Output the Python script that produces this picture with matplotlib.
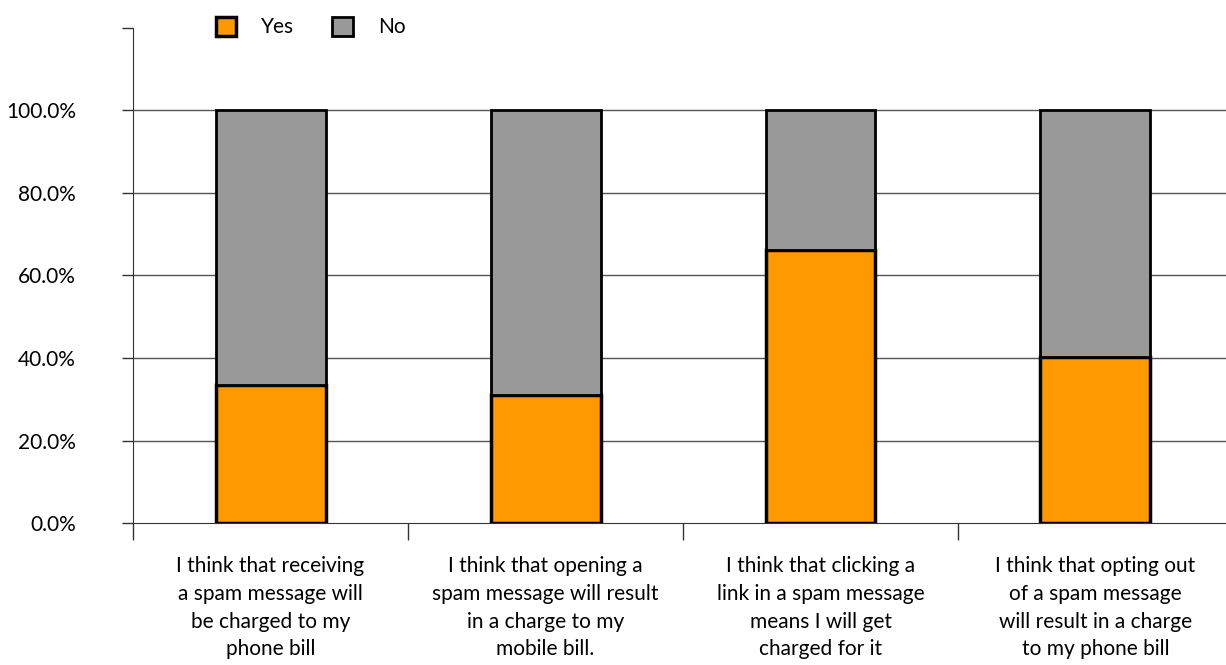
import numpy as np
import matplotlib.pyplot as plt
from matplotlib.ticker import FixedLocator

plt.rcParams['font.family'] = ['Lato', 'DejaVu Sans']

categories = [
    "I think that receiving\na spam message will\nbe charged to my\nphone bill",
    "I think that opening a\nspam message will result\nin a charge to my\nmobile bill.",
    "I think that clicking a\nlink in a spam message\nmeans I will get\ncharged for it",
    "I think that opting out\nof a spam message\nwill result in a charge\nto my phone bill",
]
yes_pct = [33.4, 31.0, 66.1, 40.2]
no_pct = [100 - v for v in yes_pct]
y_ticks = [0, 20, 40, 60, 80, 100, 120]
y_tick_labels = ['0.0%', '20.0%', '40.0%', '60.0%', '80.0%', '100.0%', '']

fig = plt.figure(figsize=(12.26, 6.65), dpi=100)
ax = fig.add_axes([0.1085, 0.2135, 0.8972, 0.7445])

x = np.arange(len(categories))
bw = 0.4
ax.bar(x, yes_pct, bw, color='#FF9900', edgecolor='black', linewidth=2.5,
       label='Yes', zorder=3)
ax.bar(x, no_pct, bw, bottom=yes_pct, color='#999999', edgecolor='black',
       linewidth=2.0, label='No', zorder=3)

ax.set_xlim(-0.5, 3.5)
ax.set_ylim(0, 120)
ax.set_yticks(y_ticks)
ax.set_yticklabels(y_tick_labels)
for v in y_ticks[1:-1]:
    ax.axhline(v, color='#555555', linewidth=1, zorder=1)

ax.set_xticks(x)
ax.set_xticklabels(categories, fontsize=15, color='black', linespacing=1.48)
ax.xaxis.set_minor_locator(FixedLocator([-0.5, 0.5, 1.5, 2.5]))
ax.tick_params(axis='x', which='major', length=0, pad=24)
ax.tick_params(axis='x', which='minor', length=12, width=1, color='#333333')
ax.tick_params(axis='y', length=8, width=1, color='#333333', labelsize=15,
               labelcolor='black', pad=33)

for side in ['top', 'right']:
    ax.spines[side].set_visible(False)
ax.spines['left'].set_color('#333333')
ax.spines['bottom'].set_color('#333333')
ax.spines['left'].set_bounds(0, 120)

leg = ax.legend(loc='upper left', bbox_to_anchor=(0.058, 1.06), ncol=2,
                frameon=False, fontsize=15, handlelength=1.0, handleheight=1.0,
                columnspacing=1.8, handletextpad=1.2)

fig.savefig('out.png', dpi=100)
